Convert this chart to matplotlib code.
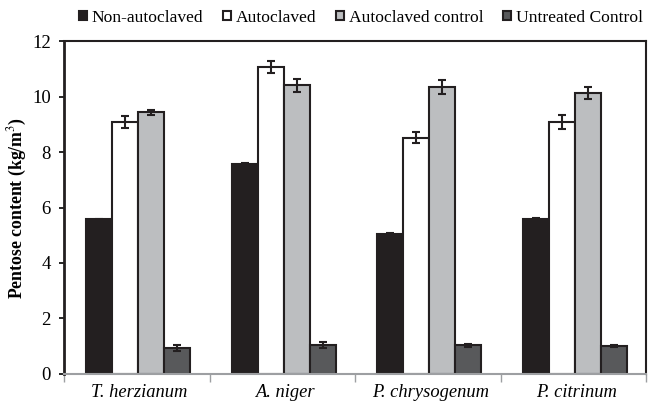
import numpy as np
import matplotlib.pyplot as plt

plt.rcParams['font.family'] = ['Liberation Serif', 'DejaVu Serif']
plt.rcParams['mathtext.fontset'] = 'stix'

species = ['T. herzianum', 'A. niger', 'P. chrysogenum', 'P. citrinum']
series = ['Non-autoclaved', 'Autoclaved', 'Autoclaved control', 'Untreated Control']

# pentose content (kg/m3) and standard deviation per species
non_autoclaved = [5.57, 7.58, 5.03, 5.59]
non_autoclaved_err = [0.03, 0.03, 0.05, 0.04]
autoclaved = [9.07, 11.06, 8.51, 9.09]
autoclaved_err = [0.22, 0.21, 0.2, 0.25]
autoclaved_ctrl = [9.43, 10.4, 10.34, 10.13]
autoclaved_ctrl_err = [0.1, 0.23, 0.26, 0.22]
untreated = [0.94, 1.05, 1.03, 1.0]
untreated_err = [0.1, 0.12, 0.05, 0.03]

values = [non_autoclaved, autoclaved, autoclaved_ctrl, untreated]
errors = [non_autoclaved_err, autoclaved_err, autoclaved_ctrl_err, untreated_err]
colors = ['#231f20', '#ffffff', '#bcbec0', '#58595b']
edge = '#231f20'

fig = plt.figure(figsize=(6.48, 4.03), dpi=100)
ax = fig.add_axes([0.0988, 0.072, 0.8982, 0.8262])

x = np.arange(len(species))
w = 0.178
for i, (vals, errs, c) in enumerate(zip(values, errors, colors)):
    pos = x + (i - 1.5) * w + 0.01
    ax.bar(pos, vals, w, color=c, edgecolor=edge, linewidth=1.5, label=series[i], zorder=2)
    ax.errorbar(pos, vals, yerr=errs, fmt='none', ecolor=edge, elinewidth=1.5,
                capsize=3.2, capthick=1.5, zorder=3)

ax.set_xlim(-0.5, len(species) - 0.5)
ax.set_ylim(0, 12)
ax.set_yticks(range(0, 13, 2))
ax.tick_params(axis='y', labelsize=13.5, length=3.5, width=1.2, direction='out', pad=6)

# category labels sit between the separator ticks
ax.set_xticks(x + 0.02)
ax.set_xticklabels(species, fontsize=13.3, fontstyle='italic')
ax.tick_params(axis='x', length=0, pad=7)
ax.set_xticks(np.arange(-0.5, len(species)), minor=True)
ax.tick_params(axis='x', which='minor', length=6, width=1, color='#9d9fa2', direction='out')

ax.spines['left'].set_linewidth(2)
ax.spines['left'].set_color(edge)
for s in ['top', 'right']:
    ax.spines[s].set_linewidth(1.5)
    ax.spines[s].set_color(edge)
ax.spines['bottom'].set_color('#9d9fa2')
ax.spines['bottom'].set_linewidth(1.5)

ax.set_ylabel('Pentose content (kg/m$^3$)', fontsize=12.8, fontweight='bold')
ax.yaxis.set_label_coords(-0.061, 0.5)

ax.legend(loc='center left', bbox_to_anchor=(0.025, 1.07), ncol=4, frameon=False,
          fontsize=12.6, handlelength=0.5, handleheight=0.5, handletextpad=0.25,
          columnspacing=1.1, borderaxespad=0, borderpad=0)

fig.savefig('out.png', dpi=100)
